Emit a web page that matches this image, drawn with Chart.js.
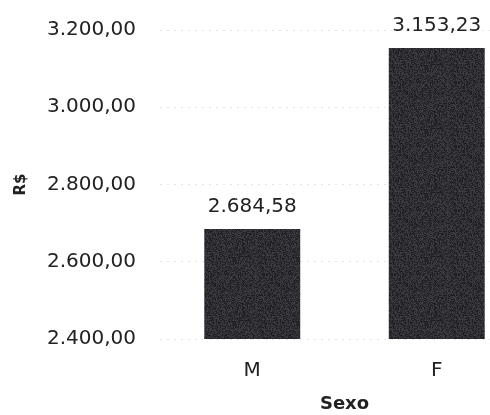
<!DOCTYPE html>
<html>
<head>
<meta charset="utf-8">
<script src="https://cdn.jsdelivr.net/npm/chart.js@4/dist/chart.umd.min.js"></script>
<style>
  html, body { margin: 0; padding: 0; background: #fff; overflow: hidden; }
  #wrap { position: relative; width: 540px; height: 415px; }
</style>
</head>
<body>
<div id="wrap"><canvas id="c" width="540" height="415"></canvas></div>
<script>
// Average income (R$) by sex
const categories = ['M', 'F'];
const rendaMedia = [2684.58, 3153.23];
const yTicks = [2400, 2600, 2800, 3000, 3200];

const fmt = new Intl.NumberFormat('pt-BR', { minimumFractionDigits: 2, maximumFractionDigits: 2 });
const FONT = '"DejaVu Sans", "Open Sans", sans-serif';

// Grainy dark fill for the bars (deterministic speckle)
function grainPattern() {
  const size = 64;
  const cv = document.createElement('canvas');
  cv.width = size; cv.height = size;
  const g = cv.getContext('2d');
  const img = g.createImageData(size, size);
  let s = 12345;
  for (let i = 0; i < size * size; i++) {
    s = (s * 1103515245 + 12345) & 0x7fffffff;
    const v = 42 + ((s >> 8) % 40) - 16;
    img.data[i * 4] = v;
    img.data[i * 4 + 1] = v;
    img.data[i * 4 + 2] = v + 5;
    img.data[i * 4 + 3] = 255;
  }
  g.putImageData(img, 0, 0);
  return g.createPattern(cv, 'repeat');
}

// Value labels above each bar
const valueLabels = {
  id: 'valueLabels',
  afterDatasetsDraw(chart) {
    const ctx = chart.ctx;
    const meta = chart.getDatasetMeta(0);
    ctx.save();
    ctx.font = '20px ' + FONT;
    ctx.fillStyle = '#222';
    ctx.textAlign = 'center';
    ctx.textBaseline = 'alphabetic';
    meta.data.forEach((bar, i) => {
      ctx.fillText(fmt.format(rendaMedia[i]), bar.x, bar.y - 17);
    });
    ctx.restore();
  }
};

new Chart(document.getElementById('c'), {
  type: 'bar',
  data: {
    labels: categories,
    datasets: [{
      data: rendaMedia,
      backgroundColor: grainPattern(),
      borderWidth: 0,
      barPercentage: 0.52,
      categoryPercentage: 1.0
    }]
  },
  options: {
    responsive: false,
    animation: false,
    layout: { padding: { top: 30, right: 11, bottom: 0, left: 8 } },
    plugins: { legend: { display: false }, tooltip: { enabled: false } },
    scales: {
      y: {
        min: yTicks[0],
        max: yTicks[yTicks.length - 1],
        afterBuildTicks(scale) { scale.ticks = yTicks.map(v => ({ value: v })); },
        afterFit(scale) { scale.width = 152; scale.paddingTop = 0; },
        border: { display: false, dash: [2, 5] },
        grid: { color: 'rgba(0,0,0,0.10)', drawTicks: false },
        ticks: {
          padding: 24,
          color: '#222',
          font: { family: FONT, size: 20 },
          callback: v => fmt.format(v)
        },
        title: {
          display: true,
          text: 'R$',
          color: '#222',
          font: { family: FONT, size: 15, weight: 'bold' },
          padding: { top: 4, bottom: 0 }
        }
      },
      x: {
        afterFit(scale) { scale.height = 76; },
        border: { display: false },
        grid: { display: false, drawTicks: false },
        ticks: {
          padding: 20,
          color: '#222',
          font: { family: FONT, size: 20 }
        },
        title: {
          display: true,
          text: 'Sexo',
          color: '#222',
          font: { family: FONT, size: 18, weight: 'bold' },
          padding: { top: 10, bottom: 0 }
        }
      }
    }
  },
  plugins: [valueLabels]
});
</script>
</body>
</html>
